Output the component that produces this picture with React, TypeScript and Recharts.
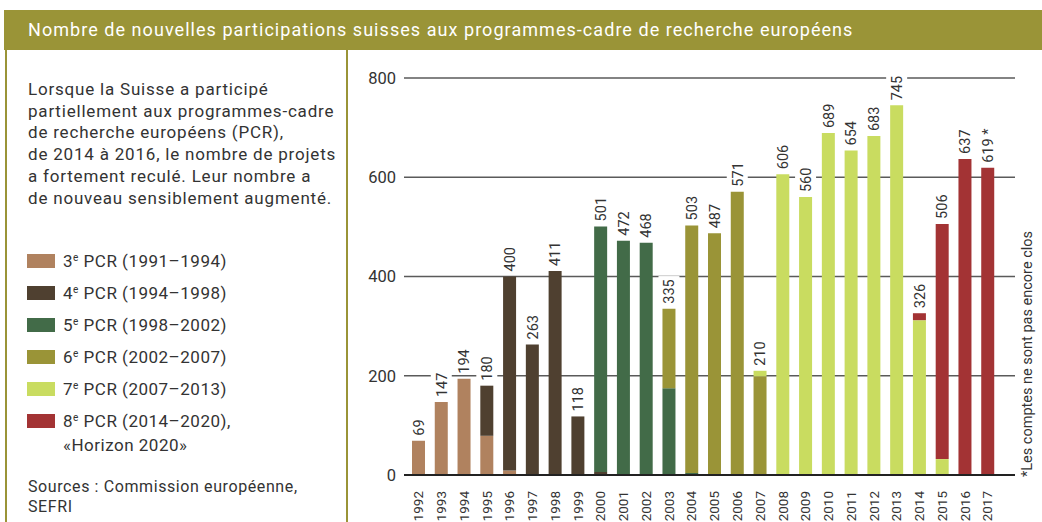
import React from 'react';
import { BarChart, Bar, XAxis, YAxis, CartesianGrid, LabelList } from 'recharts';

const years = ['1992', '1993', '1994', '1995', '1996', '1997', '1998', '1999', '2000', '2001', '2002', '2003', '2004',
  '2005', '2006', '2007', '2008', '2009', '2010', '2011', '2012', '2013', '2014', '2015', '2016', '2017'];

// participations per programme, stacked per year
const pcr3 = [69, 147, 194, 79, 9, 0, 2, 0, 0, 0, 0, 0, 0, 0, 0, 0, 0, 0, 0, 0, 0, 0, 0, 0, 0, 0];
const pcr4 = [0, 0, 0, 101, 391, 263, 409, 118, 6, 0, 2, 0, 0, 0, 0, 0, 0, 0, 0, 0, 0, 0, 0, 0, 0, 0];
const pcr5 = [0, 0, 0, 0, 0, 0, 0, 0, 495, 472, 466, 175, 4, 0, 0, 0, 0, 0, 0, 0, 0, 0, 0, 0, 0, 0];
const pcr6 = [0, 0, 0, 0, 0, 0, 0, 0, 0, 0, 0, 160, 499, 487, 571, 199, 0, 0, 0, 0, 0, 0, 0, 0, 0, 0];
const pcr7 = [0, 0, 0, 0, 0, 0, 0, 0, 0, 0, 0, 0, 0, 0, 0, 11, 606, 560, 689, 654, 683, 745, 312, 32, 0, 0];
const pcr8 = [0, 0, 0, 0, 0, 0, 0, 0, 0, 0, 0, 0, 0, 0, 0, 0, 0, 0, 0, 0, 0, 0, 14, 474, 637, 619];

const totalLabels = ['69', '147', '194', '180', '400', '263', '411', '118', '501', '472', '468', '335', '503',
  '487', '571', '210', '606', '560', '689', '654', '683', '745', '326', '506', '637', '619 *'];

const yTicks = [0, 200, 400, 600, 800];

const series = [
  { key: 'pcr3', values: pcr3, color: '#b0825f', num: '3', label: 'PCR (1991–1994)' },
  { key: 'pcr4', values: pcr4, color: '#4f4030', num: '4', label: 'PCR (1994–1998)' },
  { key: 'pcr5', values: pcr5, color: '#426b48', num: '5', label: 'PCR (1998–2002)' },
  { key: 'pcr6', values: pcr6, color: '#9a9437', num: '6', label: 'PCR (2002–2007)' },
  { key: 'pcr7', values: pcr7, color: '#c9dc60', num: '7', label: 'PCR (2007–2013)' },
  { key: 'pcr8', values: pcr8, color: '#a33334', num: '8', label: 'PCR (2014–2020),' },
];

const introLines = [
  'Lorsque la Suisse a participé',
  'partiellement aux programmes-cadre',
  'de recherche européens (PCR),',
  'de 2014 à 2016, le nombre de projets',
  'a fortement reculé. Leur nombre a',
  'de nouveau sensiblement augmenté.',
];

const OLIVE = '#9a9437';
const TEXT = '#333333';
const FONT = 'Roboto, sans-serif';

// build rows; the total label goes on the top-most non-zero segment
const data = years.map((year, i) => {
  const row: Record<string, any> = { year };
  let top = '';
  series.forEach(s => {
    row[s.key] = s.values[i];
    if (s.values[i] > 0) top = s.key;
  });
  row['lbl_' + top] = totalLabels[i];
  return row;
});

const ValueLabel = (props: any) => {
  const { x, y, width, value } = props;
  if (value === undefined || value === null || value === '') return null;
  const cx = x + width / 2;
  const base = y - 5;
  const len = String(value).length * 7.9;
  return (
    <g>
      <rect x={cx - 10.5} y={base - len - 4} width={21} height={len + 4} fill="#fff" />
      <text
        transform={`translate(${cx},${base}) rotate(-90)`}
        textAnchor="start"
        dy="0.36em"
        fontSize={14.5}
        fontFamily={FONT}
        fill={TEXT}
      >
        {value}
      </text>
    </g>
  );
};

const YearTick = (props: any) => {
  const { x, y, payload } = props;
  return (
    <g transform={`translate(${x},${y})`}>
      <text transform="rotate(-90)" x={-8} y={0} dy="0.36em" textAnchor="end" fontSize={13.5} fontFamily={FONT} fill={TEXT}>
        {payload.value}
      </text>
    </g>
  );
};

export default function App() {
  return (
    <div style={{ position: 'absolute', left: 0, top: 0, width: 1042, height: 522, background: '#fff', fontFamily: FONT, color: TEXT, overflow: 'hidden' }}>
      {/* header band */}
      <div style={{ position: 'absolute', left: 4, top: 10, width: 1038, height: 40, background: OLIVE }} />
      <div style={{ position: 'absolute', left: 28, top: 10, height: 40, lineHeight: '40px', color: '#fff', fontSize: 18, letterSpacing: 1.05, whiteSpace: 'nowrap' }}>
        Nombre de nouvelles participations suisses aux programmes-cadre de recherche européens
      </div>
      {/* frame lines */}
      <div style={{ position: 'absolute', left: 5, top: 50, width: 2, height: 472, background: OLIVE }} />
      <div style={{ position: 'absolute', left: 346, top: 50, width: 2, height: 472, background: OLIVE }} />

      {/* intro text */}
      <div style={{ position: 'absolute', left: 28, top: 79, fontSize: 17, letterSpacing: 0.8, lineHeight: '21.7px', whiteSpace: 'nowrap' }}>
        {introLines.map(l => <div key={l}>{l}</div>)}
      </div>

      {/* legend */}
      {series.map((s, i) => (
        <div key={s.key} style={{ position: 'absolute', left: 27, top: 261 + i * 32 - 11, height: 22, display: 'flex', alignItems: 'center', fontSize: 17, letterSpacing: 0.5, whiteSpace: 'nowrap' }}>
          <div style={{ width: 28, height: 14, background: s.color, marginRight: 8 }} />
          <span>{s.num}<sup style={{ fontSize: 10, verticalAlign: 'top', lineHeight: '14px' }}>e</sup> {s.label}</span>
        </div>
      ))}
      <div style={{ position: 'absolute', left: 63, top: 434, fontSize: 17, letterSpacing: 0.5, lineHeight: '22px' }}>«Horizon 2020»</div>

      <div style={{ position: 'absolute', left: 28, top: 477, fontSize: 16, letterSpacing: 0.6, lineHeight: '20px', whiteSpace: 'nowrap' }}>
        <div>Sources : Commission européenne,</div>
        <div>SEFRI</div>
      </div>

      {/* chart */}
      <div style={{ position: 'absolute', left: 340, top: 60 }}>
        <BarChart width={702} height={462} data={data} margin={{ top: 18, right: 27, left: 0, bottom: 0 }}>
          <CartesianGrid horizontal vertical={false} stroke="#5a5a5a" strokeWidth={1.4} />
          <XAxis
            dataKey="year"
            height={47}
            interval={0}
            padding={{ left: 3, right: 16 }}
            tickLine={false}
            axisLine={{ stroke: '#222', strokeWidth: 2 }}
            tick={<YearTick />}
          />
          <YAxis
            width={64}
            domain={[0, 800]}
            ticks={yTicks}
            axisLine={false}
            tickLine={false}
            tickSize={0}
            tickMargin={8}
            tick={{ fontSize: 16.5, fill: TEXT, fontFamily: FONT }}
          />
          {series.map(s => (
            <Bar key={s.key} dataKey={s.key} stackId="a" fill={s.color} barSize={13} isAnimationActive={false}>
              <LabelList dataKey={'lbl_' + s.key} content={<ValueLabel />} />
            </Bar>
          ))}
        </BarChart>
      </div>

      {/* footnote */}
      <svg style={{ position: 'absolute', left: 1010, top: 150 }} width={32} height={340}>
        <text transform="translate(17,327) rotate(-90)" textAnchor="start" dy="0.36em" fontSize={14.5} fontFamily={FONT} fill={TEXT}>
          *Les comptes ne sont pas encore clos
        </text>
      </svg>
    </div>
  );
}
